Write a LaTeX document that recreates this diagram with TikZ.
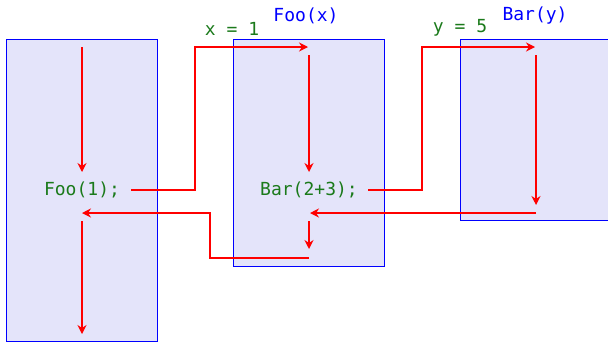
\documentclass[tikz,border=0pt]{standalone}
\usepackage{fontspec}
\setmonofont{DejaVu Sans Mono}
\usetikzlibrary{arrows.meta}
\definecolor{codeg}{HTML}{1B7A1B}
\definecolor{framef}{HTML}{E4E4FA}

\begin{document}
\begin{tikzpicture}[x=0.5pt,y=-0.5pt,font=\ttfamily\fontsize{9}{11}\selectfont,
    flow/.style={red,line width=1pt,-{Stealth[length=4.5pt,width=4.5pt]}},
    frame/.style={draw=blue,fill=framef,line width=0.5pt}]
        \useasboundingbox (0,0) rectangle (608,343);
        \draw[frame] (6,39) rectangle (157,341);
        \draw[frame] (233,39) rectangle (384,266);
        \draw[frame] (460,39) rectangle (612,220);
        \node[text=codeg] (call1) at (82,190) {Foo(1);};
        \node[text=codeg] (call2) at (309,190) {Bar(2+3);};
        \node[text=blue] (head2) at (306,16) {Foo(x)};
        \node[text=blue] (head3) at (535,16) {Bar(y)};
        \node[text=codeg] (arg2) at (232,29) {x = 1};
        \node[text=codeg] (arg3) at (460,28) {y = 5};
        % points of the flow
        \coordinate (top1) at (82,47);   \coordinate (pre1) at (82,172);
        \coordinate (out1) at (131,190); \coordinate (up1) at (195,47);
        \coordinate (in2) at (308,47);
        \coordinate (top2) at (309,55);  \coordinate (pre2) at (309,172);
        \coordinate (out2) at (368,190); \coordinate (up2) at (422,47);
        \coordinate (in3) at (535,47);
        \coordinate (top3) at (536,55);  \coordinate (end3) at (536,205);
        \coordinate (ret3) at (536,213); \coordinate (back2) at (310,213);
        \coordinate (post2) at (309,221); \coordinate (end2) at (309,249);
        \coordinate (ret2) at (309,258); \coordinate (dn1) at (210,213);
        \coordinate (back1) at (82,213);
        \coordinate (post1) at (82,221); \coordinate (end1) at (82,334);
        \draw[flow] (top1) -- (pre1);
        \draw[flow] (out1) -| (up1) -- (in2);
        \draw[flow] (top2) -- (pre2);
        \draw[flow] (out2) -| (up2) -- (in3);
        \draw[flow] (top3) -- (end3);
        \draw[flow] (ret3) -- (back2);
        \draw[flow] (post2) -- (end2);
        \draw[flow] (ret2) -| (dn1) -- (back1);
        \draw[flow] (post1) -- (end1);
      \end{tikzpicture}
\end{document}
